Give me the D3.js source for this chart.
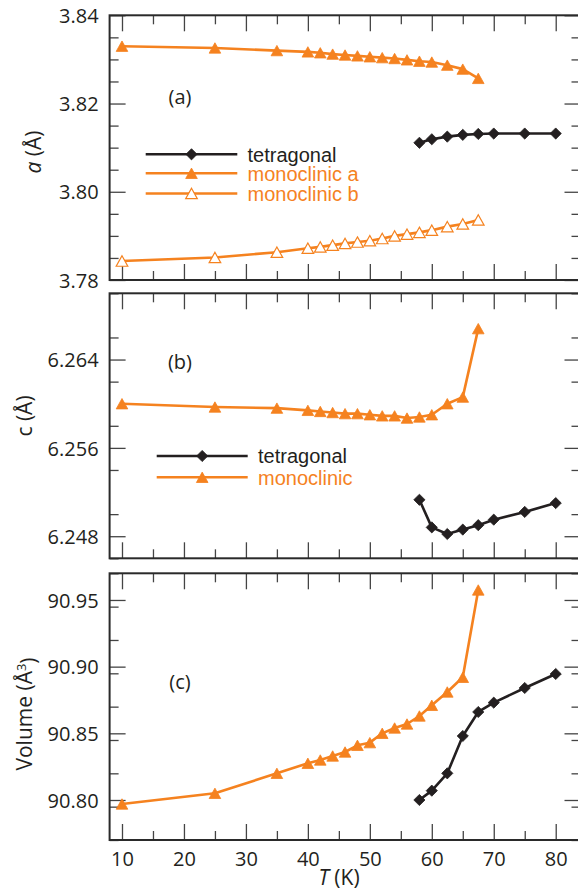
<!DOCTYPE html>
<html><head><meta charset="utf-8">
<script src="https://cdn.jsdelivr.net/npm/d3@7"></script>
<style>
html,body{margin:0;padding:0;background:#fff;overflow:hidden;}
svg{display:block;}
.tick text{font-family:"Open Sans",sans-serif;font-size:20px;fill:#231f20;}
</style></head><body>
<svg id="c" width="578" height="890"></svg>
<script>
// ---- data ----
const T_mono = [10,25,35,40,42,44,46,48,50,52,54,56,58,60,62.5,65,67.5];
const T_tet  = [58,60,62.5,65,67.5,70,75,80];
const a_monoA = [3.8330,3.8326,3.8320,3.8317,3.8315,3.8312,3.8310,3.8308,3.8306,3.8304,3.8302,3.8299,3.8296,3.8294,3.8287,3.8278,3.8257];
const a_monoB = [3.7843,3.7851,3.7863,3.7872,3.7875,3.7879,3.7883,3.7886,3.7889,3.7894,3.7900,3.7904,3.7908,3.7913,3.7921,3.7927,3.7936];
const a_tet   = [3.8111,3.8119,3.8125,3.8129,3.8131,3.8132,3.8132,3.8132];
const c_mono  = [6.2600,6.2597,6.2596,6.2594,6.2593,6.2592,6.2591,6.2591,6.2590,6.2589,6.2589,6.2587,6.2588,6.2590,6.2600,6.2606,6.2668];
const c_tet   = [6.2513,6.2488,6.2482,6.2486,6.2490,6.2495,6.2502,6.2510];
const V_mono  = [90.797,90.805,90.820,90.8275,90.830,90.833,90.836,90.841,90.843,90.850,90.854,90.857,90.863,90.871,90.881,90.892,90.9575];
const V_tet   = [90.800,90.807,90.820,90.848,90.866,90.873,90.884,90.8945];
const xMajor = [10,20,30,40,50,60,70,80];
const xMinor = [15,25,35,45,55,65,75];
const aMajor = [3.78,3.80,3.82,3.84];
const cMajor = [6.248,6.256,6.264];
const VMajor = [90.80,90.85,90.90,90.95];

const ORANGE = "#f5821f", BLACK = "#231f20";
const svg = d3.select("#c");
const x = d3.scaleLinear().domain([8,84]).range([109.6,580.5]);

function triPath(cx, cy){ const w=5.8,h=10.4; return `M${cx},${cy-h/2}L${cx+w},${cy+h/2}L${cx-w},${cy+h/2}Z`; }
function diaPath(cx, cy){ const r=5.6; return `M${cx},${cy-r}L${cx+r},${cy}L${cx},${cy+r}L${cx-r},${cy}Z`; }

function panel(cfg){
  const y = d3.scaleLinear().domain(cfg.domain).range([cfg.bottom, cfg.top]);
  const g = svg.append("g");
  const minorY = d3.range(cfg.domain[0], cfg.domain[1]+1e-9, cfg.minorStep).filter(v=>!cfg.major.some(m=>Math.abs(m-v)<1e-7));
  const tickStyle = sel => { sel.select(".domain").remove(); sel.selectAll(".tick line").attr("stroke","#444").attr("stroke-width",1.3); };
  // left
  g.append("g").attr("transform",`translate(${x.range()[0]},0)`)
    .call(d3.axisLeft(y).tickValues(cfg.major).tickSize(-16).tickPadding(11).tickFormat(d3.format(cfg.fmt)))
    .call(tickStyle).call(s=>s.selectAll("text").attr("dy","0.36em"));
  g.append("g").attr("transform",`translate(${x.range()[0]},0)`)
    .call(d3.axisLeft(y).tickValues(minorY).tickSize(-9).tickFormat("")).call(tickStyle);
  // right
  g.append("g").attr("transform",`translate(${x.range()[1]},0)`)
    .call(d3.axisRight(y).tickValues(cfg.major).tickSize(-16).tickFormat("")).call(tickStyle);
  g.append("g").attr("transform",`translate(${x.range()[1]},0)`)
    .call(d3.axisRight(y).tickValues(minorY).tickSize(-9).tickFormat("")).call(tickStyle);
  // top
  g.append("g").attr("transform",`translate(0,${cfg.top})`)
    .call(d3.axisTop(x).tickValues(xMajor).tickSize(-16).tickFormat("")).call(tickStyle);
  g.append("g").attr("transform",`translate(0,${cfg.top})`)
    .call(d3.axisTop(x).tickValues(xMinor).tickSize(-9).tickFormat("")).call(tickStyle);
  // bottom
  const bot = g.append("g").attr("transform",`translate(0,${cfg.bottom})`)
    .call(d3.axisBottom(x).tickValues(xMajor).tickSize(-16).tickPadding(8).tickFormat(cfg.xlabels ? d3.format("d") : ""))
    .call(tickStyle);
  bot.selectAll(".tick text").attr("dy","0.9em");
  g.append("g").attr("transform",`translate(0,${cfg.bottom})`)
    .call(d3.axisBottom(x).tickValues(xMinor).tickSize(-9).tickFormat("")).call(tickStyle);
  // frame
  g.append("rect").attr("x",x.range()[0]).attr("y",cfg.top)
    .attr("width",x.range()[1]-x.range()[0]).attr("height",cfg.bottom-cfg.top)
    .attr("fill","none").attr("stroke","#2a2a2a").attr("stroke-width",2);

  const line = d3.line().x(d=>x(d[0])).y(d=>y(d[1]));
  cfg.series.forEach(s=>{
    const pts = s.t.map((t,i)=>[t,s.v[i]]);
    g.append("path").attr("d",line(pts)).attr("fill","none").attr("stroke",s.color).attr("stroke-width",2.6).attr("stroke-linejoin","round");
    g.selectAll(null).data(pts).enter().append("path")
      .attr("d",d=> s.marker==="dia" ? diaPath(x(d[0]),y(d[1])) : triPath(x(d[0]),y(d[1])))
      .attr("fill", s.open ? "#fff" : s.color)
      .attr("stroke", s.color).attr("stroke-width", s.open?1.2:0.8);
  });
  // panel label
  g.append("text").attr("x",180).attr("y",cfg.labelY).attr("text-anchor","middle")
    .attr("font-family","Open Sans, sans-serif").attr("font-size",20).attr("fill",BLACK).text(cfg.label);
  // y title
  const yt = g.append("text").attr("transform",`translate(${cfg.titleX},${cfg.titleY}) rotate(-90)`)
    .attr("text-anchor","middle").attr("font-family","Open Sans, sans-serif").attr("font-size",21).attr("fill",BLACK);
  cfg.title(yt);
  // legend
  cfg.legend.items.forEach((it,i)=>{
    const ly = cfg.legend.y[i];
    g.append("line").attr("x1",cfg.legend.x1).attr("x2",cfg.legend.x2).attr("y1",ly).attr("y2",ly)
      .attr("stroke",it.color).attr("stroke-width",2.6);
    const mx = (cfg.legend.x1+cfg.legend.x2)/2;
    g.append("path").attr("d", it.marker==="dia" ? diaPath(mx,ly) : triPath(mx,ly))
      .attr("fill", it.open ? "#fff" : it.color).attr("stroke", it.color).attr("stroke-width", it.open?1.2:0.8);
    g.append("text").attr("x",cfg.legend.tx).attr("y",ly+7.2)
      .attr("font-family","Liberation Sans, Arial, sans-serif").attr("font-size",20)
      .attr("fill",it.color).text(it.name);
  });
}

panel({
  domain:[3.78,3.84], top:15.3, bottom:280, major:aMajor, minorStep:0.005, fmt:".2f",
  label:"(a)", labelY:104, titleX:41, titleY:152,
  title: t=>{ t.append("tspan").attr("font-style","italic").text("a"); t.append("tspan").text(" (Å)"); },
  series:[
    {t:T_tet, v:a_tet, color:BLACK, marker:"dia"},
    {t:T_mono, v:a_monoA, color:ORANGE, marker:"tri"},
    {t:T_mono, v:a_monoB, color:ORANGE, marker:"tri", open:true}
  ],
  legend:{x1:145.7, x2:237.3, tx:247.5, y:[154.3,173.3,193.5],
    items:[{name:"tetragonal",color:BLACK,marker:"dia"},{name:"monoclinic a",color:ORANGE,marker:"tri"},{name:"monoclinic b",color:ORANGE,marker:"tri",open:true}]}
});
panel({
  domain:[6.246,6.270], top:293.3, bottom:558.3, major:cMajor, minorStep:0.004, fmt:".3f",
  label:"(b)", labelY:369, titleX:32, titleY:416,
  title: t=>{ t.append("tspan").text("c (Å)"); },
  series:[
    {t:T_tet, v:c_tet, color:BLACK, marker:"dia"},
    {t:T_mono, v:c_mono, color:ORANGE, marker:"tri"}
  ],
  legend:{x1:156.7, x2:247.7, tx:258, y:[456,477.3],
    items:[{name:"tetragonal",color:BLACK,marker:"dia"},{name:"monoclinic",color:ORANGE,marker:"tri"}]}
});
panel({
  domain:[90.77,90.97], top:573.3, bottom:840, major:VMajor, minorStep:0.025, fmt:".2f", xlabels:true,
  label:"(c)", labelY:689, titleX:32, titleY:714,
  title: t=>{ t.append("tspan").text("Volume (Å"); t.append("tspan").attr("dy","-0.5em").attr("font-size",13).text("3");
              t.append("tspan").attr("dy","0.5em").text(")"); },
  series:[
    {t:T_tet, v:V_tet, color:BLACK, marker:"dia"},
    {t:T_mono, v:V_mono, color:ORANGE, marker:"tri"}
  ],
  legend:{x1:0,x2:0,tx:0,y:[],items:[]}
});
// x title
const xt = svg.append("text").attr("x",339).attr("y",885).attr("text-anchor","middle")
  .attr("font-family","Open Sans, sans-serif").attr("font-size",21).attr("fill",BLACK);
xt.append("tspan").attr("font-style","italic").text("T");
xt.append("tspan").text(" (K)");
</script>
</body></html>
